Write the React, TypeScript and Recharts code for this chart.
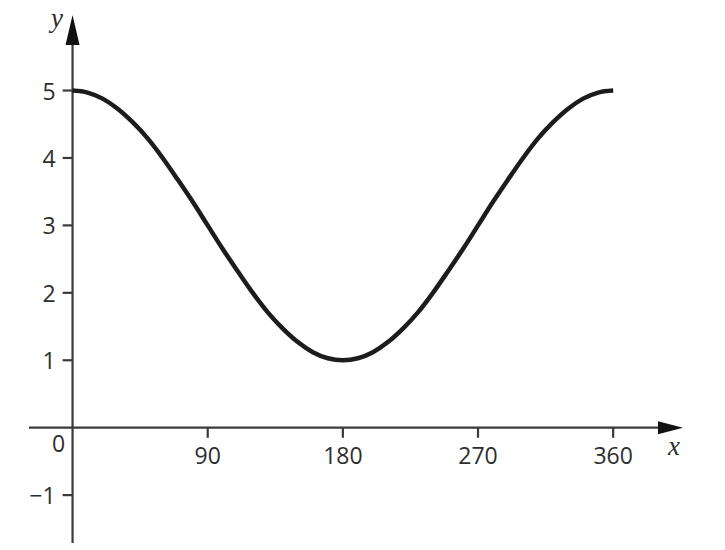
import React from 'react';
import { LineChart, Line, XAxis, YAxis, ReferenceLine, ReferenceDot } from 'recharts';

// x in degrees, y
const angles = [0, 10, 20, 30, 40, 50, 60, 70, 80, 90, 100, 110, 120, 130, 140, 150, 160, 170, 180,
  190, 200, 210, 220, 230, 240, 250, 260, 270, 280, 290, 300, 310, 320, 330, 340, 350, 360];
const yValues = [5.0, 4.97, 4.88, 4.73, 4.53, 4.29, 4.0, 3.68, 3.35, 3.0, 2.65, 2.32, 2.0, 1.71, 1.47, 1.27, 1.12, 1.03, 1.0,
  1.03, 1.12, 1.27, 1.47, 1.71, 2.0, 2.32, 2.65, 3.0, 3.35, 3.68, 4.0, 4.29, 4.53, 4.73, 4.88, 4.97, 5.0];

const xTicks = [90, 180, 270, 360];
const xTickLabels = ['90', '180', '270', '360'];
const yTicks = [5, 4, 3, 2, 1, -1];
const yTickLabels = ['5', '4', '3', '2', '1', '\u22121'];

const data = angles.map((a, i) => ({ x: a, y: yValues[i] }));

const AXIS = '#3a3a3a';
const TEXT = '#2e2e2e';
const FONT = '"Open Sans", "Noto Sans", sans-serif';
const FS = 23;

const HorizontalArrow = (p: any) => {
  const left = Math.min(p.x1, p.x2);
  const right = Math.max(p.x1, p.x2);
  const y = p.y1;
  return (
    <g>
      <line x1={left} y1={y} x2={right - 20} y2={y} stroke={AXIS} strokeWidth={2.2} />
      <polygon points={`${right},${y} ${right - 25},${y - 6.5} ${right - 25},${y + 6.5}`} fill="#111" />
    </g>
  );
};

const VerticalArrow = (p: any) => {
  const top = Math.min(p.y1, p.y2);
  const bottom = Math.max(p.y1, p.y2);
  const x = p.x1;
  return (
    <g>
      <line x1={x} y1={top + 22} x2={x} y2={bottom} stroke={AXIS} strokeWidth={2.2} />
      <polygon points={`${x},${top} ${x - 7},${top + 30} ${x + 7},${top + 30}`} fill="#111" />
    </g>
  );
};

const xNameLabel = (props: any) => {
  const vb = props.viewBox;
  return (
    <text x={vb.x + vb.width - 9} y={vb.y + 27} textAnchor="middle" fontFamily='"Liberation Serif", serif'
      fontStyle="italic" fontSize={27} fill={TEXT}>x</text>
  );
};

const yNameLabel = (props: any) => {
  const vb = props.viewBox;
  return (
    <text x={vb.x - 15.5} y={vb.y + 12} textAnchor="middle" fontFamily='"Liberation Serif", serif'
      fontStyle="italic" fontSize={27} fill={TEXT}>y</text>
  );
};

const xTickLabel = (text: string) => (props: any) => {
  const vb = props.viewBox;
  return (
    <text x={vb.x + vb.width / 2} y={vb.y + vb.height + 17} textAnchor="middle" dominantBaseline="central"
      fontFamily={FONT} fontSize={FS} fill={TEXT}>{text}</text>
  );
};

const yTickLabel = (text: string) => (props: any) => {
  const vb = props.viewBox;
  return (
    <text x={vb.x - 7} y={vb.y + vb.height / 2} textAnchor="end" dominantBaseline="central"
      fontFamily={FONT} fontSize={FS} fill={TEXT}>{text}</text>
  );
};

const originLabel = (props: any) => {
  const vb = props.viewBox;
  return (
    <text x={vb.x - 14} y={vb.y + 15} textAnchor="middle" dominantBaseline="central"
      fontFamily={FONT} fontSize={FS} fill={TEXT}>0</text>
  );
};

export default function App() {
  return (
    <div style={{ position: 'absolute', left: 0, top: 0, width: 725, height: 550, background: '#fff' }}>
      <LineChart width={725} height={550} data={data} margin={{ top: 15, right: 42, bottom: 7, left: 29 }}>
        <XAxis dataKey="x" type="number" domain={[-29, 406.5]} allowDataOverflow hide />
        <YAxis type="number" domain={[-1.71, 6.12]} allowDataOverflow hide />
        <ReferenceLine y={0} shape={HorizontalArrow} label={xNameLabel} />
        <ReferenceLine x={0} shape={VerticalArrow} label={yNameLabel} />
        <ReferenceDot x={0} y={0} r={0} fill="none" stroke="none" label={originLabel} />
        {xTicks.map((t, i) => (
          <ReferenceLine key={`xt${t}`} segment={[{ x: t, y: 0 }, { x: t, y: -0.15 }]}
            stroke={AXIS} strokeWidth={2.2} label={xTickLabel(xTickLabels[i])} />
        ))}
        {yTicks.map((t, i) => (
          <ReferenceLine key={`yt${t}`} segment={[{ x: -6.6, y: t }, { x: 0, y: t }]}
            stroke={AXIS} strokeWidth={2.2} label={yTickLabel(yTickLabels[i])} />
        ))}
        <Line dataKey="y" type="monotone" stroke="#1c1c1c" strokeWidth={4.5} dot={false}
          isAnimationActive={false} />
      </LineChart>
    </div>
  );
}
